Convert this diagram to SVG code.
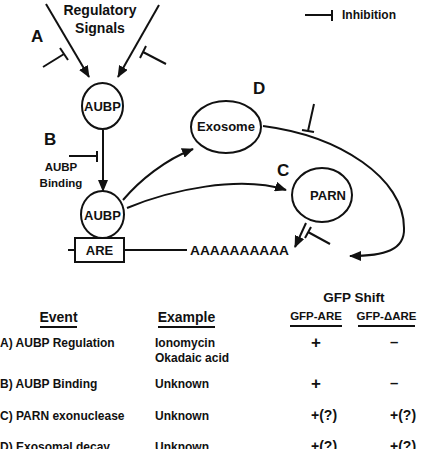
<svg xmlns="http://www.w3.org/2000/svg" width="423" height="449" viewBox="0 0 423 449">
<defs>
<marker id="ah" viewBox="0 0 12 10" refX="11" refY="5" markerWidth="12" markerHeight="10" markerUnits="userSpaceOnUse" orient="auto">
<path d="M0,0 L12,5 L0,10 z" fill="#111"/>
</marker>
</defs>
<style>
.l{stroke:#111;stroke-width:2;fill:none}
.n{stroke:#111;stroke-width:2;fill:#fff}
text{font-family:"Liberation Sans",Arial,sans-serif;font-weight:bold;fill:#111}
.c{text-anchor:middle}
.big{font-size:17px}
.t{font-size:12px}
.h{font-size:14px}
.p{font-size:17px}
.m{font-size:15px}
.q{font-size:14px}
</style>
<rect width="423" height="449" fill="#fff"/>

<g id="connectors">
<line class="l" x1="46" y1="4" x2="89" y2="77" marker-end="url(#ah)"/>
<line class="l" x1="159" y1="5" x2="118" y2="77" marker-end="url(#ah)"/>
<line class="l" x1="43" y1="67" x2="64" y2="54"/>
<line class="l" x1="60" y1="48" x2="68" y2="60"/>
<line class="l" x1="166" y1="64" x2="143" y2="52"/>
<line class="l" x1="146" y1="46" x2="140" y2="58"/>
<line class="l" x1="103" y1="130" x2="103" y2="191" marker-end="url(#ah)"/>
<line class="l" x1="69" y1="156" x2="97" y2="156"/>
<line class="l" x1="97" y1="151" x2="97" y2="162"/>
<path class="l" d="M123,200 C140,180 165,160 193,149" marker-end="url(#ah)"/>
<path class="l" d="M127,208 C170,190 240,175 286,190" marker-end="url(#ah)"/>
<path class="l" d="M263,126 C340,136 404,178 404,228 C405,250 385,256 350,256" marker-end="url(#ah)"/>
<line class="l" x1="314" y1="104" x2="308" y2="131"/>
<line class="l" x1="302" y1="130" x2="314" y2="132"/>
<line class="l" x1="306" y1="223" x2="295" y2="247" marker-end="url(#ah)"/>
<line class="l" x1="330" y1="244" x2="308" y2="232"/>
<line class="l" x1="311" y1="227" x2="305" y2="238"/>
<line class="l" x1="68" y1="250" x2="75" y2="250"/>
<line class="l" x1="124" y1="250" x2="187" y2="250"/>
<line class="l" x1="305" y1="15" x2="332" y2="15"/>
<line class="l" x1="332" y1="10" x2="332" y2="21"/>
</g>

<g id="signals">
<text class="c" x="100" y="15" font-size="14">Regulatory</text>
<text class="c" x="100" y="33" font-size="14">Signals</text>
</g>
<g id="labelA"><text class="big" x="31" y="42">A</text></g>
<g id="labelB"><text class="big" x="44" y="145">B</text></g>
<g id="labelC"><text class="big" x="277" y="176">C</text></g>
<g id="labelD"><text class="big" x="253" y="94">D</text></g>
<g id="legend"><text x="342" y="19" font-size="12">Inhibition</text></g>
<g id="aubp-binding">
<text class="c" x="61" y="171" font-size="11.5">AUBP</text>
<text class="c" x="61" y="187" font-size="11.5">Binding</text>
</g>
<g id="aubp1">
<ellipse class="n" cx="102.5" cy="106" rx="20.5" ry="23"/>
<text class="c" x="102.5" y="111" font-size="13">AUBP</text>
</g>
<g id="aubp2">
<ellipse class="n" cx="102.5" cy="214.5" rx="21.5" ry="23.5"/>
<text class="c" x="102.5" y="219.5" font-size="13">AUBP</text>
</g>
<g id="exosome">
<ellipse class="n" cx="226" cy="127" rx="35" ry="26"/>
<text class="c" x="226" y="131" font-size="13">Exosome</text>
</g>
<g id="parn">
<ellipse class="n" cx="322" cy="195" rx="30" ry="27"/>
<text class="c" x="328" y="200" font-size="13">PARN</text>
</g>
<g id="are">
<rect class="n" x="75" y="238" width="49" height="24"/>
<text class="c" x="99.5" y="255" font-size="13">ARE</text>
</g>
<g id="polyA"><text x="190" y="255" font-size="13.5" textLength="99" lengthAdjust="spacingAndGlyphs">AAAAAAAAAA</text></g>

<g id="table">
<text class="c" x="354" y="302" font-size="13.5">GFP Shift</text>
<text class="c h" x="58.5" y="322">Event</text>
<line class="l" x1="40" y1="327" x2="77" y2="327"/>
<text class="c h" x="186.5" y="322">Example</text>
<line class="l" x1="158" y1="327" x2="215" y2="327"/>
<text class="c" x="316" y="320" font-size="11.5">GFP-ARE</text>
<line class="l" x1="290" y1="326" x2="342" y2="326"/>
<text class="c" x="386.5" y="320" font-size="11.5">GFP-ΔARE</text>
<line class="l" x1="358" y1="326" x2="415" y2="326"/>

<text class="t" x="0" y="347">A) AUBP Regulation</text>
<text class="t" x="155" y="347">Ionomycin</text>
<text class="t" x="155" y="362">Okadaic acid</text>
<text class="p" x="311" y="348">+</text>
<text class="m" x="390" y="347">–</text>

<text class="t" x="0" y="388">B) AUBP Binding</text>
<text class="t" x="155" y="388">Unknown</text>
<text class="p" x="311" y="389">+</text>
<text class="m" x="390" y="388">–</text>

<text class="t" x="0" y="420">C) PARN exonuclease</text>
<text class="t" x="155" y="420">Unknown</text>
<text class="q" x="311" y="420">+(?)</text>
<text class="q" x="390" y="420">+(?)</text>

<text class="t" x="0" y="451">D) Exosomal decay</text>
<text class="t" x="155" y="451">Unknown</text>
<text class="q" x="311" y="451">+(?)</text>
<text class="q" x="390" y="451">+(?)</text>
</g>
</svg>
